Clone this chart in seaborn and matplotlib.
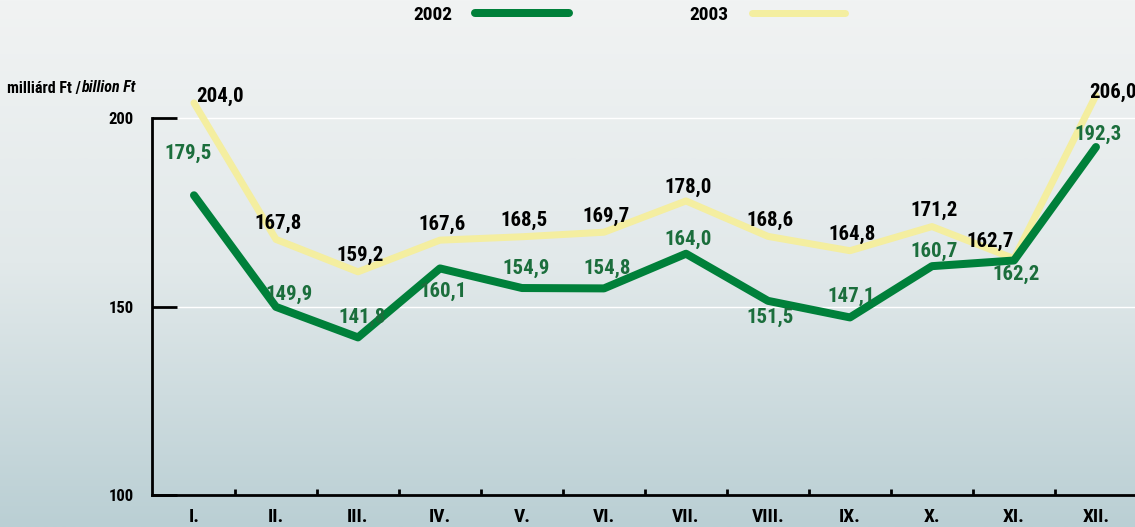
import numpy as np
import pandas as pd
import matplotlib.pyplot as plt
import seaborn as sns
from matplotlib.colors import LinearSegmentedColormap

# havi adatok (milliárd Ft)
months = ['I.', 'II.', 'III.', 'IV.', 'V.', 'VI.', 'VII.', 'VIII.', 'IX.', 'X.', 'XI.', 'XII.']
y2002 = [179.5, 149.9, 141.8, 160.1, 154.9, 154.8, 164.0, 151.5, 147.1, 160.7, 162.2, 192.3]
y2003 = [204.0, 167.8, 159.2, 167.6, 168.5, 169.7, 178.0, 168.6, 164.8, 171.2, 162.7, 206.0]
yticks = [100, 150, 200]

# címke eltolások pixelben (dx, dy felfelé)
off2002 = [(-6, 42), (13, 12), (4, 20), (3, -23), (4, 20), (3, 20),
           (2, 14), (2, -17), (1, 21), (2, 15), (2, -14), (2, 13)]
off2003 = [(26, 6), (2, 16), (2, 16), (2, 16), (2, 16), (2, 16),
           (2, 14), (2, 16), (2, 16), (2, 16), (-24, 17), (17, 3)]

GREEN = '#00803a'
GREEN_TXT = '#1b6e3c'
YELLOW = '#f4eea0'

plt.rcParams['font.family'] = ['Roboto Condensed', 'DejaVu Sans']
plt.rcParams['font.weight'] = 'bold'
plt.rcParams['lines.solid_capstyle'] = 'round'

df = pd.DataFrame({
    'pos': list(range(len(months))) * 2,
    'value': y2002 + y2003,
    'year': ['2002'] * len(months) + ['2003'] * len(months),
})

W, H = 1135, 527
fig = plt.figure(figsize=(W / 100, H / 100), dpi=100)

# háttér színátmenet
bg = fig.add_axes([0, 0, 1, 1], zorder=-10)
cmap = LinearSegmentedColormap.from_list('bg', ['#f1f3f3', '#e2e9ea', '#bacfd4'])
bg.imshow(np.linspace(0, 1, 256).reshape(-1, 1), aspect='auto', cmap=cmap,
          extent=[0, 1, 0, 1])
bg.axis('off')

ax = fig.add_axes([152 / W, 32 / H, (W - 152) / W, 495 / H])
ax.set_facecolor('none')

px = 0.72  # pixel -> pont

sns.lineplot(data=df[df['year'] == '2003'], x='pos', y='value', color=YELLOW,
             linewidth=7 * px, ax=ax, legend=False)
sns.lineplot(data=df[df['year'] == '2002'], x='pos', y='value', color=GREEN,
             linewidth=8 * px, ax=ax, legend=False)
l2003, l2002 = ax.lines[0], ax.lines[1]

for i in range(len(months)):
    ax.annotate(f'{y2003[i]:.1f}'.replace('.', ','), (i, y2003[i]),
                xytext=(off2003[i][0] * px, off2003[i][1] * px), textcoords='offset points',
                ha='center', va='center', fontsize=15, color='black', fontweight='bold')
    ax.annotate(f'{y2002[i]:.1f}'.replace('.', ','), (i, y2002[i]),
                xytext=(off2002[i][0] * px, off2002[i][1] * px), textcoords='offset points',
                ha='center', va='center', fontsize=15, color=GREEN_TXT, fontweight='bold')

ax.set_xlim(-0.512, 11.476)
ax.set_ylim(100, 100 + 495 / 3.77)
ax.set_xlabel('')
ax.set_ylabel('')

ax.set_xticks(range(len(months)))
ax.set_xticklabels(months, fontsize=14, fontweight='bold')
ax.set_xticks(np.arange(0.5, len(months) - 1, 1), minor=True)
ax.tick_params(axis='x', which='major', length=0, pad=9)
ax.tick_params(axis='x', which='minor', direction='in', length=6 * px, width=2, color='black')

ax.set_yticks(yticks)
ax.set_yticklabels([str(t) for t in yticks], fontsize=12, fontweight='bold')
ax.tick_params(axis='y', direction='in', length=25 * px, width=2, pad=13, color='black')

ax.yaxis.grid(True, color='white', linewidth=1)
ax.set_axisbelow(True)

for s in ['top', 'right']:
    ax.spines[s].set_visible(False)
ax.spines['left'].set_bounds(100, 200)
ax.spines['left'].set_linewidth(2)
ax.spines['bottom'].set_linewidth(2)

# tengelyfelirat
t2 = fig.text(135 / W, 1 - 88 / H, 'billion Ft', ha='right', va='center',
              fontsize=11.5, fontweight='bold', fontstyle='italic')
ax.annotate('milliárd Ft /', xy=(0, 0.5), xycoords=t2, ha='right', va='center',
            fontsize=11.5, fontweight='bold', annotation_clip=False)

fig.legend(handles=[l2002, l2003], labels=['2002', '2003'], loc='center',
           bbox_to_anchor=(629 / W, 1 - 15 / H), ncol=2, markerfirst=False,
           frameon=False, fontsize=14, handlelength=4.8, handletextpad=1.2,
           columnspacing=6.2)

fig.savefig('out.png', dpi=100)
